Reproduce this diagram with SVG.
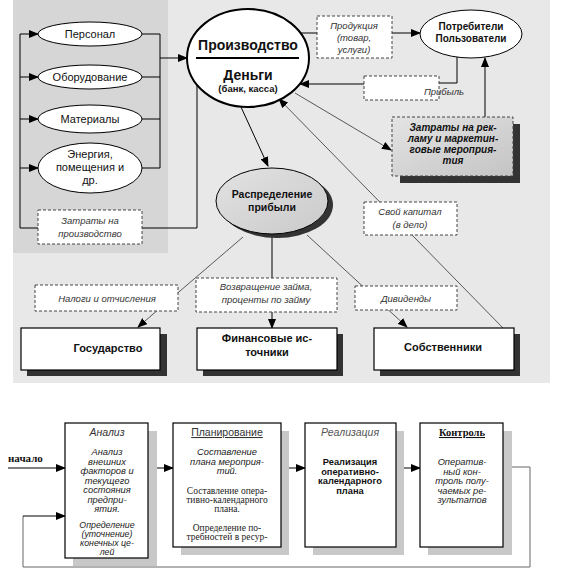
<svg xmlns="http://www.w3.org/2000/svg" width="564" height="579" viewBox="0 0 564 579" font-size="10" fill="#111">
<defs>
<marker id="ah" markerUnits="userSpaceOnUse" markerWidth="10" markerHeight="8" refX="9" refY="4" orient="auto"><path d="M0,0 L10,4 L0,8 Z" fill="#000"/></marker>
<linearGradient id="g1" x1="0" y1="0" x2="1" y2="1"><stop offset="0" stop-color="#e4e4e4"/><stop offset="1" stop-color="#c4c4c4"/></linearGradient>
<linearGradient id="g2" x1="0" y1="0" x2="1" y2="1"><stop offset="0" stop-color="#e2e2e2"/><stop offset="1" stop-color="#cacaca"/></linearGradient>
</defs>
<style>
.s{font-family:"Liberation Sans",Arial,sans-serif}
.b{font-family:"Liberation Sans",Arial,sans-serif;font-weight:bold}
.i{font-family:"Liberation Sans",Arial,sans-serif;font-style:italic}
.sr{font-family:"Liberation Serif","Times New Roman",serif}
.e{fill:#fff;stroke:#000;stroke-width:1}
.d{fill:#fff;stroke:#444;stroke-width:1;stroke-dasharray:3,2}
.ln{fill:none;stroke:#000;stroke-width:1}
.th{fill:none;stroke:#333;stroke-width:0.8}
.bx{fill:#fff;stroke:#000;stroke-width:1.2}
.sh{fill:#333}
.lsh{fill:#c8c8c8}
</style>
<rect x="13" y="0" width="537" height="383" fill="#e8e8e8"/>
<rect x="13" y="0" width="155" height="253" fill="#d6d6d6"/>

<g id="connectors">
<path class="ln" d="M20,34 V228"/>
<path class="ln" d="M20,34 H38" marker-end="url(#ah)"/>
<path class="ln" d="M20,77 H38" marker-end="url(#ah)"/>
<path class="ln" d="M20,119 H38" marker-end="url(#ah)"/>
<path class="ln" d="M20,168 H38" marker-end="url(#ah)"/>
<path class="ln" d="M142,34 H160 M142,77 H160 M142,119 H160 M142,168 H160 M160,34 V168"/>
<path class="ln" d="M160,58 H187" marker-end="url(#ah)"/>
<path class="ln" d="M20,228 H38 M142,228 H197 V85"/>
<path class="ln" d="M300,33 H317"/>
<path class="ln" d="M392,33 H420" marker-end="url(#ah)"/>
<path class="ln" d="M457,57 V83 H439"/>
<path class="ln" d="M364,84 H300" marker-end="url(#ah)"/>
<path class="ln" d="M485,117 V58" marker-end="url(#ah)"/>
<path class="th" d="M295,93 L391,150" marker-end="url(#ah)"/>
<path class="th" d="M503,328 L279,99" marker-end="url(#ah)"/>
<path class="ln" d="M241,107 L268,166" marker-end="url(#ah)"/>
<path class="th" d="M243,237 L138,327" marker-end="url(#ah)"/>
<path class="ln" d="M272,235 V328" marker-end="url(#ah)"/>
<path class="th" d="M307,235 L407,327" marker-end="url(#ah)"/>
<path class="ln" d="M8,468 H65" marker-end="url(#ah)"/>
<path class="ln" d="M148,468 H173" marker-end="url(#ah)"/>
<path class="ln" d="M281,468 H305" marker-end="url(#ah)"/>
<path class="ln" d="M396,468 H420" marker-end="url(#ah)"/>
<path fill="none" stroke="#666" stroke-width="1" d="M508,467 H530 V567 H23 V516"/>
<path class="ln" d="M23,516 H65" marker-end="url(#ah)"/>
</g>

<g id="personal"><ellipse class="e" cx="90" cy="34" rx="52" ry="12"/><text class="s" x="90" y="38" text-anchor="middle" font-size="11">Персонал</text></g>
<g id="equipment"><ellipse class="e" cx="90" cy="77" rx="52" ry="12"/><text class="s" x="90" y="81" text-anchor="middle" font-size="11">Оборудование</text></g>
<g id="materials"><ellipse class="e" cx="90" cy="119" rx="52" ry="14"/><text class="s" x="90" y="123" text-anchor="middle" font-size="11">Материалы</text></g>
<g id="energy"><ellipse class="e" cx="90" cy="168" rx="52" ry="25"/><text class="s" text-anchor="middle" font-size="11"><tspan x="90" y="158">Энергия,</tspan><tspan x="90" y="171">помещения и</tspan><tspan x="90" y="184">др.</tspan></text></g>
<g id="costs-prod"><rect class="d" x="38" y="210" width="104" height="34"/><text class="i" text-anchor="middle" font-size="9.5" fill="#333"><tspan x="90" y="224">Затраты на</tspan><tspan x="90" y="237">производство</tspan></text></g>

<g id="production"><ellipse cx="248" cy="58" rx="61" ry="49" fill="#fff" stroke="#000" stroke-width="2"/>
<text class="b" x="248" y="50" text-anchor="middle" font-size="14">Производство</text>
<line x1="196" y1="58" x2="299" y2="58" stroke="#000" stroke-width="2"/>
<text class="b" x="248" y="80" text-anchor="middle" font-size="14">Деньги</text>
<text class="b" x="248" y="92" text-anchor="middle" font-size="9.5">(банк, касса)</text></g>

<g id="product"><rect class="d" x="317" y="16" width="75" height="42"/><text class="i" text-anchor="middle" font-size="9.5" fill="#333"><tspan x="354" y="29">Продукция</tspan><tspan x="354" y="41">(товар,</tspan><tspan x="354" y="53">услуги)</tspan></text></g>
<g id="consumers"><ellipse class="e" cx="471" cy="34" rx="51" ry="24"/><text class="b" text-anchor="middle" font-size="10"><tspan x="471" y="30">Потребители</tspan><tspan x="471" y="42">Пользователи</tspan></text></g>
<g id="profit"><rect class="d" x="364" y="76" width="75" height="24"/><text class="i" x="444" y="95" text-anchor="middle" font-size="9.5" fill="#333">Прибыль</text></g>
<g id="marketing"><rect class="sh" x="400" y="124" width="120" height="59"/><rect x="392" y="117" width="121" height="59" fill="url(#g1)" stroke="#444" stroke-dasharray="3,2"/>
<text class="i" text-anchor="middle" font-size="10" font-weight="bold"><tspan x="453" y="131">Затраты на рек-</tspan><tspan x="453" y="142">ламу и маркетин-</tspan><tspan x="453" y="153">говые мероприя-</tspan><tspan x="453" y="164">тия</tspan></text></g>

<g id="distribution"><ellipse cx="277" cy="205" rx="56" ry="33" fill="#333"/><ellipse cx="272" cy="201" rx="56" ry="33" fill="url(#g2)" stroke="#000" stroke-width="1"/>
<text class="b" text-anchor="middle" font-size="10.5"><tspan x="272" y="198">Распределение</tspan><tspan x="272" y="211">прибыли</tspan></text></g>

<g id="own-capital"><rect class="d" x="364" y="202" width="93" height="33"/><text class="i" text-anchor="middle" font-size="9.5" fill="#333"><tspan x="410" y="215">Свой капитал</tspan><tspan x="410" y="228">(в дело)</tspan></text></g>
<g id="taxes"><rect class="d" x="35" y="285" width="143" height="26"/><text class="i" x="107" y="302" text-anchor="middle" font-size="9.5" fill="#333">Налоги и отчисления</text></g>
<g id="loan"><rect class="d" x="196" y="278" width="141" height="34"/><text class="i" text-anchor="middle" font-size="9.5" fill="#333"><tspan x="266" y="290">Возвращение займа,</tspan><tspan x="266" y="303">проценты по займу</tspan></text></g>
<g id="dividends"><rect class="d" x="355" y="286" width="102" height="24"/><text class="i" x="406" y="302" text-anchor="middle" font-size="9.5" fill="#333">Дивиденды</text></g>

<g id="state"><rect class="sh" x="27" y="334" width="140" height="42"/><rect class="bx" x="21" y="328" width="139" height="42"/><text class="b" x="108" y="352" text-anchor="middle" font-size="11">Государство</text></g>
<g id="finance"><rect class="sh" x="203" y="334" width="140" height="42"/><rect class="bx" x="197" y="328" width="140" height="42"/><text class="b" text-anchor="middle" font-size="11"><tspan x="267" y="342">Финансовые ис-</tspan><tspan x="267" y="356">точники</tspan></text></g>
<g id="owners"><rect class="sh" x="380" y="334" width="140" height="42"/><rect class="bx" x="374" y="328" width="140" height="42"/><text class="b" x="443" y="351" text-anchor="middle" font-size="11">Собственники</text></g>

<text class="sr" x="8" y="462" font-size="11" font-weight="bold">начало</text>

<g id="analysis"><rect class="lsh" x="73" y="431" width="84" height="135"/><rect class="bx" x="65" y="423" width="83" height="135"/>
<text class="i" x="107" y="436" text-anchor="middle" font-size="10.5" fill="#333">Анализ</text>
<text class="i" text-anchor="middle" font-size="9.3" fill="#222"><tspan x="107" y="455">Анализ</tspan><tspan x="107" y="464.5">внешних</tspan><tspan x="107" y="474">факторов и</tspan><tspan x="107" y="483.5">текущего</tspan><tspan x="107" y="493">состояния</tspan><tspan x="107" y="502.5">предпри-</tspan><tspan x="107" y="512">ятия.</tspan></text>
<text class="i" text-anchor="middle" font-size="8.8" fill="#222"><tspan x="107" y="528">Определение</tspan><tspan x="107" y="537">(уточнение)</tspan><tspan x="107" y="546">конечных це-</tspan><tspan x="107" y="555">лей</tspan></text></g>

<g id="planning"><rect class="lsh" x="181" y="431" width="108" height="124"/><rect class="bx" x="173" y="423" width="108" height="124"/>
<text class="s" x="227" y="436" text-anchor="middle" font-size="10.5" fill="#333" text-decoration="underline">Планирование</text>
<text class="i" text-anchor="middle" font-size="9.3" fill="#222"><tspan x="227" y="455">Составление</tspan><tspan x="227" y="464.5">плана мероприя-</tspan><tspan x="227" y="474">тий.</tspan></text>
<text class="sr" text-anchor="middle" font-size="9.5" fill="#222"><tspan x="227" y="494">Составление опера-</tspan><tspan x="227" y="503">тивно-календарного</tspan><tspan x="227" y="512">плана.</tspan><tspan x="227" y="531">Определение по-</tspan><tspan x="227" y="540">требностей в ресур-</tspan></text></g>

<g id="realization"><rect class="lsh" x="313" y="431" width="91" height="124"/><rect class="bx" x="305" y="423" width="91" height="124"/>
<text class="i" x="350" y="436" text-anchor="middle" font-size="10.5" fill="#555">Реализация</text>
<text class="b" text-anchor="middle" font-size="9.3"><tspan x="350" y="465">Реализация</tspan><tspan x="350" y="474.5">оперативно-</tspan><tspan x="350" y="484">календарного</tspan><tspan x="350" y="493.5">плана</tspan></text></g>

<g id="control"><rect class="lsh" x="428" y="431" width="84" height="124"/><rect class="bx" x="420" y="423" width="83" height="124"/>
<text class="sr" x="462" y="436" text-anchor="middle" font-size="10.5" font-weight="bold" text-decoration="underline">Контроль</text>
<text class="i" text-anchor="middle" font-size="9.3" fill="#222"><tspan x="462" y="465">Оператив-</tspan><tspan x="462" y="474.5">ный кон-</tspan><tspan x="462" y="484">троль полу-</tspan><tspan x="462" y="493.5">чаемых ре-</tspan><tspan x="462" y="503">зультатов</tspan></text></g>
</svg>
